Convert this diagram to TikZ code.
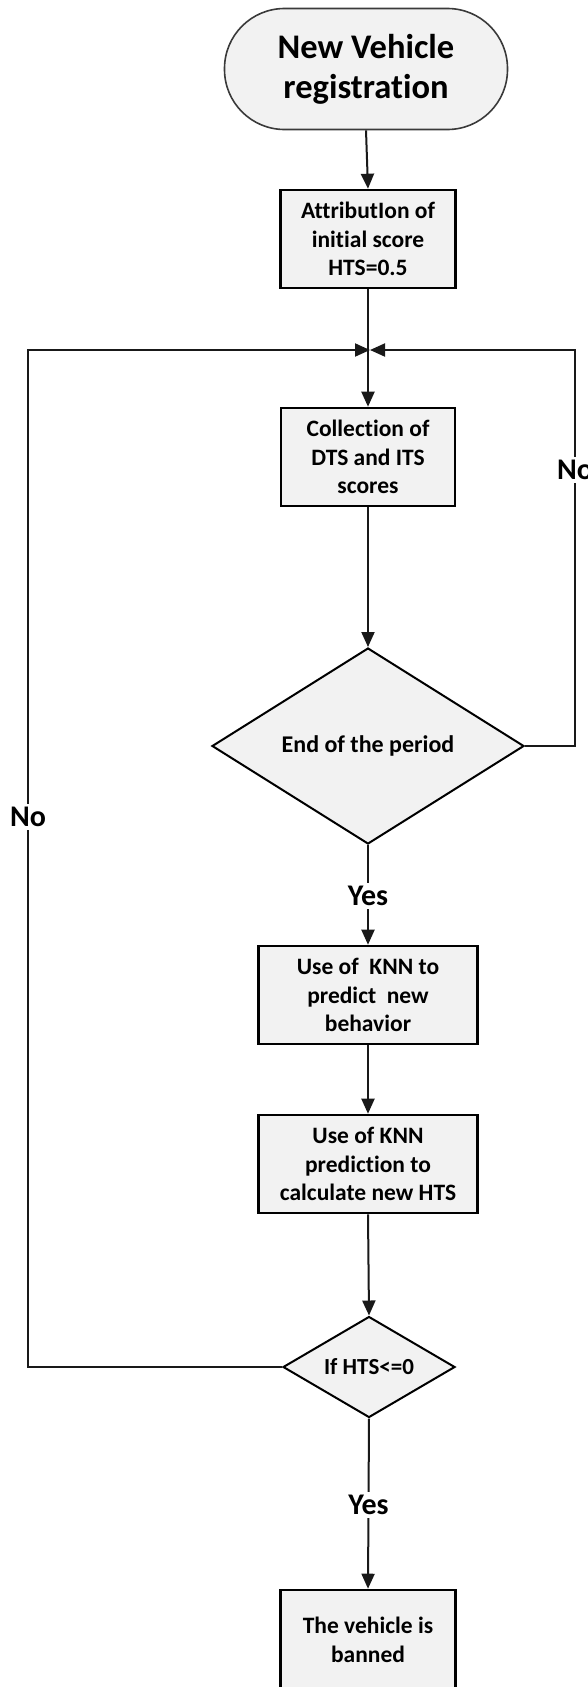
\documentclass[tikz,border=0pt]{standalone}
\usepackage{fontspec}
\setmainfont{Carlito}[Ligatures={NoCommon}]
\usetikzlibrary{arrows.meta,shapes.geometric}

\definecolor{boxfill}{HTML}{F2F2F2}
\definecolor{termline}{HTML}{3A3A3A}

\tikzset{
  terminal/.style={draw=termline, line width=1.6pt, fill=boxfill, rounded corners=60pt,
    minimum width=283pt, minimum height=121pt, align=center, inner sep=0pt,
    font=\fontsize{34.5}{40}\selectfont\bfseries},
  procbox/.style={draw=black, line width=2.6pt, fill=boxfill, align=center,
    minimum height=98pt, inner sep=0pt, font=\fontsize{23.5}{28.5}\selectfont\bfseries},
  decision/.style={draw=black, line width=2pt, fill=boxfill, shape=diamond, align=center,
    inner sep=0pt, font=\fontsize{24}{28}\selectfont\bfseries},
  flow/.style={draw=black!90, line width=2pt},
  arrowflow/.style={flow, -{Triangle[length=15pt,width=13pt]}},
  branchlabel/.style={fill=white, inner sep=3pt, font=\fontsize{30}{32}\selectfont\bfseries}
}

\begin{document}
\begin{tikzpicture}[x=1pt,y=-1pt]
\useasboundingbox (0,0) rectangle (587,1687);

% nodes
\node[terminal] (start) at (366,69) {New Vehicle\\registration};
\node[procbox, minimum width=175pt] (init) at (368,239) {AttributIon of\\initial score\\HTS=0.5};
\node[procbox, minimum width=174pt] (collect) at (368,457) {Collection of\\DTS and ITS\\scores};
\node[decision, shape aspect=1.6, minimum width=312pt, minimum height=196pt] (period) at (368,746) {End of the period};
\node[procbox, minimum width=219pt] (knn) at (368,995) {Use of\ \ KNN to\\predict\ \ new\\behavior};
\node[procbox, minimum width=219pt] (calc) at (368,1164) {Use of KNN\\prediction to\\calculate new HTS};
\node[decision, shape aspect=1.7, minimum width=172pt, minimum height=101pt,
      font=\fontsize{23}{26}\selectfont\bfseries] (check) at (369,1367) {If HTS<=0};
\node[procbox, minimum width=175pt, minimum height=100pt] (ban) at (368,1640) {The vehicle is\\banned};

% loop corners
\coordinate (merge) at (370,350);
\coordinate (leftbot) at (28,1367);
\coordinate (lefttop) at (28,350);
\coordinate (rightbot) at (575,746);
\coordinate (righttop) at (575,350);

% main flow
\draw[arrowflow] (start.south) -- (init.north);
\draw[arrowflow] (init.south) -- (collect.north);
\draw[arrowflow] (collect.south) -- (period.north);
\draw[arrowflow] (period.south) -- node[branchlabel, pos=0.51] {Yes} (knn.north);
\draw[arrowflow] (knn.south) -- (calc.north);
\draw[arrowflow] (calc.south) -- (check.north);
\draw[arrowflow] (check.south) -- node[branchlabel, pos=0.51] {Yes} (ban.north);

% feedback loops
\draw[arrowflow] (check.west) -- (leftbot) -- node[branchlabel, pos=0.541] {No} (lefttop) -- (merge);
\draw[arrowflow] (period.east) -- (rightbot) -- node[branchlabel, pos=0.697] {No} (righttop) -- (merge);
\end{tikzpicture}
\end{document}
